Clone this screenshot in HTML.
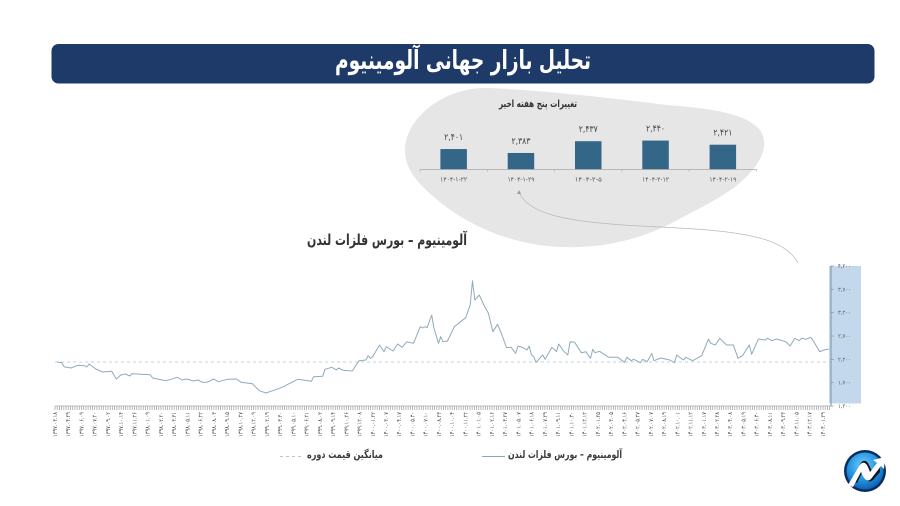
<!DOCTYPE html>
<html lang="fa">
<head>
<meta charset="utf-8">
<title>تحلیل بازار جهانی آلومینیوم</title>
<style>
html,body{margin:0;padding:0;background:#fff;width:900px;height:506px;overflow:hidden}
svg{display:block;font-family:"DejaVu Sans","Liberation Sans",sans-serif;filter:blur(0.3px)}
</style>
</head>
<body>
<svg id="chart" xmlns="http://www.w3.org/2000/svg" width="900" height="506" viewBox="0 0 900 506">
  <defs>
    <radialGradient id="logoFill" cx="45%" cy="35%" r="70%">
      <stop offset="0" stop-color="#6fd0fb"/>
      <stop offset="0.6" stop-color="#1f8fe0"/>
      <stop offset="1" stop-color="#0b57a8"/>
    </radialGradient>
  </defs>
  <rect x="51.5" y="44" width="823" height="39.5" rx="7" fill="#1e3a68"/>
  <text x="463" y="69" text-anchor="middle" direction="rtl" font-size="26" font-weight="700" fill="#fff" textLength="256" lengthAdjust="spacingAndGlyphs">تحلیل بازار جهانی آلومینیوم</text>

  <path fill="#e6e6e6" d="M405 150 C405 118 445 86 490 88 C540 90 610 98 667 105 C705 108 745 112 760 130 C770 145 762 165 735 187 C715 201 700 208 683 217 C650 236 610 249 560 247 C515 245 470 228 435 198 C418 183 405 170 405 150 Z"/>
  <text x="538" y="107" text-anchor="middle" direction="rtl" font-size="10" font-weight="700" fill="#333" textLength="78" lengthAdjust="spacingAndGlyphs">تغییرات پنج هفته اخیر</text>
  <g id="barLayer"></g>

  <path d="M519 192 C528 214 565 222 640 226 C720 230 782 232 798 263" fill="none" stroke="#b9b9b9" stroke-width="0.7"/>
  <path d="M519 190 L517 194 L521 194 Z" fill="#9a9a9a"/>

  <text x="387" y="245" text-anchor="middle" direction="rtl" font-size="15" font-weight="700" fill="#333" textLength="160" lengthAdjust="spacingAndGlyphs">آلومینیوم – بورس فلزات لندن</text>

  <rect x="829" y="266" width="32" height="137.5" fill="#c4d8ec"/>
  <g id="lineLayer"></g>

  <g>
    <line x1="482" y1="456.5" x2="505" y2="456.5" stroke="#8aa9b8" stroke-width="1"/>
    <text x="565" y="458" text-anchor="middle" direction="rtl" font-size="10.5" font-weight="700" fill="#3a3a3a" textLength="114" lengthAdjust="spacingAndGlyphs">آلومینیوم – بورس فلزات لندن</text>
    <line x1="280" y1="456.5" x2="303" y2="456.5" stroke="#b5cbc9" stroke-width="1" stroke-dasharray="3 3"/>
    <text x="345" y="458" text-anchor="middle" direction="rtl" font-size="10.5" font-weight="700" fill="#3a3a3a" textLength="76" lengthAdjust="spacingAndGlyphs">میانگین قیمت دوره</text>
  </g>

  <g>
    <circle cx="865" cy="471" r="21" fill="#0c2c5c"/>
    <circle cx="865" cy="471" r="18.5" fill="url(#logoFill)"/>
    <path d="M851 481 L860 464 C863 459 867 460 869 465 L872 471 L880 463 L880 472 L873 480 C869 483 866 481 864 476 L862 473 L857 483 Z" fill="#0b1720"/>
    <path d="M848 485 L859 466 C862 461 866 462 868 467 L870 472 L877 463 L873 460 L885 457 L884 469 L881 466 L871 479 C868 482 865 480 863 476 L861 472 L853 487 Z" fill="#fff"/>
  </g>
</svg>

<script>
// Line chart data
const weeks = [1,3,4,7,10,13,14,15,18,21,25,27,29,31,33,34,42,43,49,54,56,58,61,63,65,67,70,72,76,80,82,87,90,93,96,100,107,113,114,118,119,122,124,125,127,131,134,137,138,139,140,143,145,146,149,151,153,155,158,161,162,163,164,166,167,169,170,171,173,176,181,183,184,185,187,189,191,193,195,197,199,201,203,204,206,208,209,210,211,212,215,216,219,221,222,224,226,227,229,232,234,236,237,238,240,244,248,251,252,254,255,258,259,261,263,264,267,271,273,274,277,278,281,285,288,289,291,293,296,299,301,303,306,307,310,313,314,316,318,322,324,326,328,329,331,333,334,337,339,341];
const prices = [2143,2128,2042,2014,2072,2064,2036,2100,1993,1929,1944,1779,1864,1886,1843,1892,1871,1800,1742,1815,1757,1779,1736,1757,1708,1708,1779,1721,1772,1779,1708,1678,1528,1479,1528,1601,1772,1729,1828,1836,1986,2029,1971,2014,1965,1950,2171,2186,2278,2222,2257,2507,2364,2471,2379,2529,2458,2578,2544,2899,2872,2899,2878,3150,2872,2544,2685,2578,2593,2899,3092,3364,3885,3472,3579,3364,3187,2792,2951,2722,2449,2458,2329,2479,2458,2400,2486,2293,2257,2136,2293,2201,2458,2364,2529,2385,2293,2578,2565,2342,2364,2222,2415,2342,2372,2244,2244,2136,2244,2171,2201,2128,2201,2149,2329,2171,2229,2186,2128,2293,2186,2244,2171,2278,2636,2544,2507,2651,2507,2507,2222,2278,2507,2308,2636,2614,2651,2599,2636,2578,2486,2651,2599,2651,2629,2672,2614,2364,2400,2422];
const periodAverage = 2143;
const dateLabels = ['۱۳۹۷.۰۳.۱۸','۱۳۹۷.۰۴.۲۹','۱۳۹۷.۰۶.۰۹','۱۳۹۷.۰۷.۲۰','۱۳۹۷.۰۹.۰۲','۱۳۹۷.۱۰.۱۴','۱۳۹۷.۱۱.۲۶','۱۳۹۸.۰۱.۰۹','۱۳۹۸.۰۲.۲۰','۱۳۹۸.۰۳.۳۱','۱۳۹۸.۰۵.۱۱','۱۳۹۸.۰۶.۲۲','۱۳۹۸.۰۸.۰۳','۱۳۹۸.۰۹.۱۵','۱۳۹۸.۱۰.۲۷','۱۳۹۸.۱۲.۰۹','۱۳۹۹.۰۲.۱۹','۱۳۹۹.۰۳.۳۰','۱۳۹۹.۰۵.۱۰','۱۳۹۹.۰۶.۲۱','۱۳۹۹.۰۸.۰۲','۱۳۹۹.۰۹.۱۴','۱۳۹۹.۱۰.۲۶','۱۳۹۹.۱۲.۰۸','۱۴۰۰.۰۱.۲۲','۱۴۰۰.۰۳.۰۷','۱۴۰۰.۰۴.۱۷','۱۴۰۰.۰۵.۳۰','۱۴۰۰.۰۷.۱۰','۱۴۰۰.۰۸.۲۳','۱۴۰۰.۱۰.۰۴','۱۴۰۰.۱۱.۲۲','۱۴۰۱.۰۱.۰۵','۱۴۰۱.۰۲.۱۶','۱۴۰۱.۰۳.۲۷','۱۴۰۱.۰۵.۰۷','۱۴۰۱.۰۶.۱۸','۱۴۰۱.۰۷.۲۹','۱۴۰۱.۰۹.۱۱','۱۴۰۱.۱۰.۳۰','۱۴۰۱.۱۲.۱۲','۱۴۰۲.۰۱.۲۵','۱۴۰۲.۰۳.۰۵','۱۴۰۲.۰۴.۱۶','۱۴۰۲.۰۵.۲۷','۱۴۰۲.۰۷.۰۷','۱۴۰۲.۰۸.۱۹','۱۴۰۲.۱۰.۰۱','۱۴۰۲.۱۱.۱۲','۱۴۰۳.۰۱.۱۷','۱۴۰۳.۰۲.۲۸','۱۴۰۳.۰۴.۰۸','۱۴۰۳.۰۵.۱۹','۱۴۰۳.۰۶.۳۰','۱۴۰۳.۰۸.۱۱','۱۴۰۳.۰۹.۲۳','۱۴۰۳.۱۱.۰۵','۱۴۰۳.۱۲.۱۷','۱۴۰۴.۰۱.۲۹'];
const yTickValues = [1200,1700,2200,2700,3200,3700,4200];
const yTickLabels = ['۱,۲۰۰','۱,۷۰۰','۲,۲۰۰','۲,۷۰۰','۳,۲۰۰','۳,۷۰۰','۴,۲۰۰'];
// Bar chart data
const barDates = ['۱۴۰۴-۱-۲۲','۱۴۰۴-۱-۲۹','۱۴۰۴-۲-۵','۱۴۰۴-۲-۱۲','۱۴۰۴-۲-۱۹'];
const barValues = [2401,2383,2437,2440,2421];
const barValueLabels = ['۲,۴۰۱','۲,۳۸۳','۲,۴۳۷','۲,۴۴۰','۲,۴۲۱'];

const NS = 'http://www.w3.org/2000/svg';
function make(parent, tag, attrs, text) {
  const el = document.createElementNS(NS, tag);
  for (const k in attrs) el.setAttribute(k, attrs[k]);
  if (text !== undefined) el.textContent = text;
  parent.appendChild(el);
  return el;
}

// Axis functions for the line chart
const plotLeft = 55, plotRight = 831, plotBottom = 406, plotTop = 266;
const weekMax = 342, valueMin = 1200, valueMax = 4200;
const xWeek = w => plotLeft + w * (plotRight - plotLeft) / weekMax;
const yPrice = v => plotBottom - (v - valueMin) * (plotBottom - plotTop) / (valueMax - valueMin);
const xLabel = i => plotLeft + i * 13.24;

const lineLayer = document.getElementById('lineLayer');

for (let x = plotLeft; x <= plotRight; x += 2.207) {
  const t = make(lineLayer, 'line', {x1: x, x2: x, y1: plotBottom, y2: plotBottom + 4, stroke: '#a9a9a9', 'stroke-width': 0.8});
  
  
}
const xAxis = make(lineLayer, 'line', {x1: plotLeft, x2: plotRight, y1: plotBottom, y2: plotBottom, stroke: '#a9a9a9', 'stroke-width': 0.8});



dateLabels.forEach((label, i) => {
  const x = xLabel(i);
  const t = make(lineLayer, 'text', {
    x: 0, y: 0, transform: 'translate(' + (x + 2) + ',412) rotate(-90)',
    'text-anchor': 'end', 'font-size': 6, fill: '#444', direction: 'ltr',
    textLength: 25, lengthAdjust: 'spacingAndGlyphs'
  }, label);
  
  
});

const avgLine = make(lineLayer, 'line', {
  x1: plotLeft, x2: plotRight, y1: yPrice(periodAverage), y2: yPrice(periodAverage),
  stroke: '#b0c8c6', 'stroke-width': 0.8, 'stroke-dasharray': '3 3'
});



const priceLine = make(lineLayer, 'polyline', {
  points: weeks.map((w, i) => xWeek(w).toFixed(1) + ',' + yPrice(prices[i]).toFixed(1)).join(' '),
  fill: 'none', stroke: '#8fabb9', 'stroke-width': 1, 'stroke-linejoin': 'round'
});



const yAxis = make(lineLayer, 'line', {x1: plotRight, x2: plotRight, y1: plotTop, y2: plotBottom, stroke: '#6f93b8', 'stroke-width': 1});



yTickValues.forEach((v, i) => {
  const tick = make(lineLayer, 'line', {x1: plotRight, x2: plotRight + 2.5, y1: yPrice(v), y2: yPrice(v), stroke: '#7a8a99', 'stroke-width': 0.7});
  
  
  const t = make(lineLayer, 'text', {x: 838, y: yPrice(v) + 2, 'font-size': 6, fill: '#5d5d5d', direction: 'ltr', textLength: 13, lengthAdjust: 'spacingAndGlyphs'}, yTickLabels[i]);
  
  
});

// Axis functions for the bar chart
const barLeft = 420, barBand = 67.3, barBase = 169.5, barWidth = 26.5;
const xBand = i => barLeft + barBand * (i + 0.5);
const yBar = v => barBase - (v - 2307) * 0.2175;

const barLayer = document.getElementById('barLayer');

barValues.forEach((v, i) => {
  const r = make(barLayer, 'rect', {x: xBand(i) - barWidth / 2, y: yBar(v), width: barWidth, height: barBase - yBar(v), fill: '#336687'});
  
  
  const vl = make(barLayer, 'text', {x: xBand(i), y: yBar(v) - 9, 'text-anchor': 'middle', 'font-size': 9, fill: '#444', direction: 'ltr', textLength: 19, lengthAdjust: 'spacingAndGlyphs'}, barValueLabels[i]);
  
  
  const dl = make(barLayer, 'text', {x: xBand(i), y: 181.5, 'text-anchor': 'middle', 'font-size': 6.5, fill: '#555', direction: 'ltr', textLength: 27, lengthAdjust: 'spacingAndGlyphs'}, barDates[i]);
  
  
});

const barAxis = make(barLayer, 'line', {x1: barLeft, x2: barLeft + barBand * barValues.length, y1: barBase, y2: barBase, stroke: '#a8a8a8', 'stroke-width': 0.8});



for (let i = 0; i <= barValues.length; i++) {
  const t = make(barLayer, 'line', {x1: barLeft + barBand * i, x2: barLeft + barBand * i, y1: barBase, y2: barBase + 2, stroke: '#a8a8a8', 'stroke-width': 0.7});
  
  
}
</script>
</body>
</html>
